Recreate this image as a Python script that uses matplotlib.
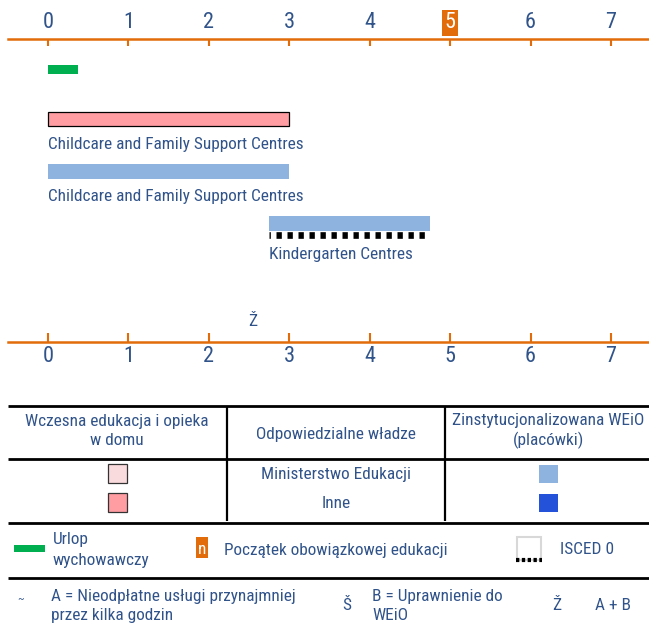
import matplotlib
matplotlib.use('Agg')
import matplotlib.pyplot as plt
from matplotlib.patches import Rectangle

plt.rcParams['font.family'] = ['Liberation Sans Narrow', 'Roboto Condensed', 'Liberation Sans', 'DejaVu Sans']

# ---------------- data ----------------
ages = [0, 1, 2, 3, 4, 5, 6, 7]
compulsory_age = 5
leave = (0.0, 0.375)                       # Urlop wychowawczy
home_bars_start = [0.0]                    # Wczesna edukacja i opieka w domu (Inne)
home_bars_end = [3.0]
home_bar_labels = ['Childcare and Family Support Centres']
inst_bars_start = [0.0, 2.75]              # Zinstytucjonalizowana WEiO (Ministerstwo Edukacji)
inst_bars_end = [3.0, 4.75]
inst_bar_labels = ['Childcare and Family Support Centres', 'Kindergarten Centres']
isced0_start = [2.75]
isced0_end = [4.75]
entitlement_symbol = 'Ž'
entitlement_age = 2.55

# ---------------- style ----------------
TXT = '#30538A'
ORANGE = '#E36C0A'
GREEN = '#00B050'
PINK = '#FF9DA3'
LPINK = '#FADBDD'
LBLUE = '#8DB3DE'
DBLUE = '#2453D9'
FS = 12.4
W, H = 649, 625

fig = plt.figure(figsize=(W / 100, H / 100), dpi=100)

# background axes in pixel coordinates (table / legend)
bg = fig.add_axes([0, 0, 1, 1], zorder=0)
bg.set_xlim(0, W)
bg.set_ylim(H, 0)
bg.axis('off')

# main chart axes: spans top orange axis (y=39px) to bottom one (y=342px)
top_px, bot_px, left_px = 39, 342, 8
ax = fig.add_axes([left_px / W, (H - bot_px) / H, (W - left_px) / W, (bot_px - top_px) / H], zorder=1)
ax.patch.set_visible(False)
px_per_year = 80.43
ax.set_xlim((left_px - 48) / px_per_year, (W - 48) / px_per_year)
ax.set_ylim(bot_px, top_px)
for s in ['left', 'right', 'top']:
    ax.spines[s].set_visible(False)
ax.spines['bottom'].set_color(ORANGE)
ax.spines['bottom'].set_linewidth(1.8)
ax.set_yticks([])
ax.set_xticks(ages)
ax.set_xticklabels([str(a) for a in ages])
ax.tick_params(axis='x', direction='in', length=6.5, width=1.5, color=ORANGE,
               labelsize=16, labelcolor=TXT, pad=3.0)

sec = ax.secondary_xaxis('top')
sec.spines['top'].set_color(ORANGE)
sec.spines['top'].set_linewidth(1.8)
sec.set_xticks(ages)
sec.set_xticklabels([str(a) for a in ages])
sec.tick_params(axis='x', direction='in', length=4.8, width=1.5, color=ORANGE,
                labelsize=16, labelcolor=TXT, pad=4.0)
for lbl in sec.get_xticklabels():
    if lbl.get_text() == str(compulsory_age):
        lbl.set_color('white')
        lbl.set_bbox(dict(facecolor=ORANGE, edgecolor='none', boxstyle='square,pad=0.1'))

# bars
ax.barh([69.5], [leave[1] - leave[0]], left=[leave[0]], height=9, color=GREEN, edgecolor='none')
ax.barh([119], [e - s for s, e in zip(home_bars_start, home_bars_end)], left=home_bars_start,
        height=14.5, color=PINK, edgecolor='black', linewidth=0.9)
inst_y = [171.5, 223.3]
ax.barh(inst_y, [e - s for s, e in zip(inst_bars_start, inst_bars_end)], left=inst_bars_start,
        height=14.8, color=LBLUE, edgecolor='none')
# ISCED 0 dashes
ax.hlines([234.5] * len(isced0_start), isced0_start, isced0_end, colors='black',
          linewidth=4.8, linestyles=(0.6, (0.8, 0.85)))

# labels
ax.text(home_bars_start[0], 144, home_bar_labels[0], color=TXT, fontsize=FS, ha='left', va='center')
label_y = [196, 254]
for s, lab, yy in zip(inst_bars_start, inst_bar_labels, label_y):
    ax.text(s, yy, lab, color=TXT, fontsize=FS, ha='left', va='center')
ax.text(entitlement_age, 321, entitlement_symbol, color=TXT, fontsize=FS, ha='center', va='center')

# ---------------- table ----------------
LW = 2.0
bg.hlines(406, 8, W, colors='black', linewidth=LW)
bg.hlines(459, 8, W, colors='black', linewidth=LW)
bg.vlines([227, 445], 406, 521, colors='black', linewidth=1.6)
bg.text(117, 431, 'Wczesna edukacja i opieka\nw domu', color=TXT, fontsize=FS,
        ha='center', va='center', linespacing=1.3)
bg.text(336, 434, 'Odpowiedzialne władze', color=TXT, fontsize=FS, ha='center', va='center')
bg.text(548, 431, 'Zinstytucjonalizowana WEiO\n(placówki)', color=TXT, fontsize=FS,
        ha='center', va='center', linespacing=1.3)
bg.text(336, 475, 'Ministerstwo Edukacji', color=TXT, fontsize=FS, ha='center', va='center')
bg.text(336, 503, 'Inne', color=TXT, fontsize=FS, ha='center', va='center')
bg.add_patch(Rectangle((108, 464), 19, 19, facecolor=LPINK, edgecolor='#333333', linewidth=0.9))
bg.add_patch(Rectangle((108, 493), 19, 19, facecolor=PINK, edgecolor='#333333', linewidth=0.9))
bg.add_patch(Rectangle((539, 465), 19, 18, facecolor=LBLUE, edgecolor='none'))
bg.add_patch(Rectangle((539, 494), 19, 18, facecolor=DBLUE, edgecolor='none'))

# ---------------- legend ----------------
bg.hlines(523, 8, W, colors='black', linewidth=LW)
bg.add_patch(Rectangle((14, 545), 31, 7, facecolor=GREEN, edgecolor='none'))
bg.text(53, 550, 'Urlop\nwychowawczy', color=TXT, fontsize=FS, ha='left', va='center', linespacing=1.5)
bg.add_patch(Rectangle((196, 537), 12, 21, facecolor=ORANGE, edgecolor='none'))
bg.text(202, 550, 'n', color='white', fontsize=FS, ha='center', va='center')
bg.text(224, 550, 'Początek obowiązkowej edukacji', color=TXT, fontsize=FS, ha='left', va='center')
bg.add_patch(Rectangle((517, 537), 24, 23, facecolor='white', edgecolor='#D8D8D8', linewidth=1.5))
bg.hlines(560, 516, 542, colors='black', linewidth=3, linestyles=(0, (0.8, 0.6)))
bg.text(560, 550, 'ISCED 0', color=TXT, fontsize=FS, ha='left', va='center')

bg.hlines(578, 8, W, colors='black', linewidth=LW)
bg.text(21, 599, '~', color=TXT, fontsize=8, ha='center', va='center')
bg.text(51, 606, 'A = Nieodpłatne usługi przynajmniej\nprzez kilka godzin', color=TXT, fontsize=FS,
        ha='left', va='center', linespacing=1.35)
bg.text(347, 606, 'Š', color=TXT, fontsize=FS, ha='center', va='center')
bg.text(372, 606, 'B = Uprawnienie do\nWEiO', color=TXT, fontsize=FS,
        ha='left', va='center', linespacing=1.35)
bg.text(557, 606, 'Ž', color=TXT, fontsize=FS, ha='center', va='center')
bg.text(595, 606, 'A + B', color=TXT, fontsize=FS, ha='left', va='center')

fig.savefig('out.png', dpi=100)
